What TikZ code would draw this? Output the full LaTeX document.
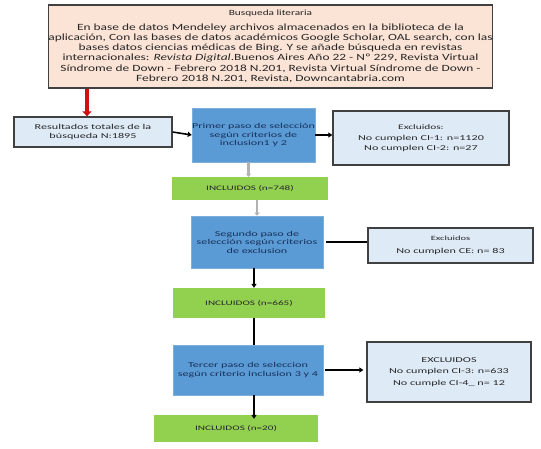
\documentclass[tikz,border=0pt]{standalone}
\usepackage{fontspec}
\setmainfont{Carlito}[FakeStretch=1.41]
\newfontfamily\boxfont{Carlito}[FakeStretch=1.62]
\usetikzlibrary{arrows.meta}
\definecolor{peach}{HTML}{FBE3D6}
\definecolor{bluebox}{HTML}{5B9BD5}
\definecolor{greenbox}{HTML}{92D050}
\definecolor{lightbox}{HTML}{DEEBF7}
\definecolor{darkline}{HTML}{404040}
\definecolor{txtgrey}{HTML}{262626}
\definecolor{navy}{HTML}{17305A}
\definecolor{redarr}{HTML}{D01010}
\tikzset{
  topbox/.style={draw=darkline, line width=1.6pt, fill=peach, inner sep=0pt, align=center, text=txtgrey, font=\fontsize{9.5}{10.3}\selectfont},
  stepbox/.style={fill=bluebox, draw=bluebox!80!white, line width=0.6pt, inner sep=0pt, align=center, text=navy, font=\boxfont\fontsize{7.5}{8.5}\selectfont},
  inclbox/.style={fill=greenbox, inner sep=0pt, align=center, text=txtgrey, font=\boxfont\fontsize{6.9}{8}\selectfont},
  exclbox/.style={fill=lightbox, draw=darkline, line width=1.3pt, inner sep=0pt, align=center, text=txtgrey, font=\boxfont\fontsize{7.5}{8.5}\selectfont},
  blackarr/.style={line width=1.6pt, black, -{Triangle[length=4pt,width=5pt]}},
  blackline/.style={line width=2.2pt, black},
  greyarr/.style={line width=2.4pt, gray!60, -{Triangle[length=3pt,width=5pt]}},
  redarrow/.style={line width=4pt, redarr, -{Triangle[length=5pt,width=9pt]}}
}
\begin{document}
\begin{tikzpicture}[x=1pt,y=-1pt]
\useasboundingbox (0,0) rectangle (541,448);
\node[topbox, minimum width=439pt, minimum height=83pt] (top) at (270.5,46.5)
 {\fontsize{8}{9}\selectfont Busqueda literaria\\[4pt]
  \fontsize{9.5}{10.3}\selectfont
  En base de datos Mendeley archivos almacenados en la biblioteca de la\\
  aplicación, Con las bases de datos académicos Google Scholar, OAL search, con las\\
  bases datos ciencias médicas de Bing. Y se añade búsqueda en revistas\\
  internacionales: \textit{Revista Digital}.Buenos Aires Año 22 - Nº 229, Revista Virtual\\
  Síndrome de Down - Febrero 2018 N.201, Revista Virtual Síndrome de Down -\\
  Febrero 2018 N.201, Revista, Downcantabria.com};
\node[exclbox, minimum width=158pt, minimum height=30pt] (res) at (93,132)
 {Resultados totales de la\\búsqueda N:1895};
\node[stepbox, minimum width=121pt, minimum height=54pt] (p1) at (253.5,135)
 {Primer paso de selección\\según criterios de\\inclusion1 y 2};
\node[exclbox, minimum width=176pt, minimum height=54pt] (e1) at (421,138)
 {\fontsize{7}{8}\selectfont Excluidos:\\[2pt]No cumplen CI-1: n=1120\\[1.5pt]No cumplen CI-2: n=27};
\node[inclbox, minimum width=156pt, minimum height=23pt] (i1) at (250,188.5)
 {INCLUIDOS (n=748)};
\node[stepbox, minimum width=132pt, minimum height=52pt] (p2) at (257,242)
 {Segundo paso de\\selección según criterios\\de exclusion};
\node[exclbox, minimum width=165pt, minimum height=35pt] (e2) at (450.5,245.5)
 {\fontsize{6.5}{7.5}\selectfont Excluidos\\[5pt]No cumplen CE: n= 83};
\node[inclbox, minimum width=152pt, minimum height=30pt] (i2) at (249,303)
 {INCLUIDOS (n=665)};
\node[stepbox, minimum width=150pt, minimum height=50pt] (p3) at (248,370)
 {Tercer paso de seleccion\\según criterio inclusion 3 y 4};
\node[exclbox, minimum width=164pt, minimum height=60pt] (e3) at (449,372)
 {EXCLUIDOS\\[3pt]No cumplen CI-3: n=633\\[3pt]No cumple CI-4\_ n= 12};
\node[inclbox, minimum width=164pt, minimum height=27pt] (i3) at (236,428.5)
 {INCLUIDOS (n=20)};
% connectors
\draw[redarrow] ([xshift=-6pt]res.north |- top.south) -- ([xshift=-6pt]res.north);
\draw[blackarr] (res.east) -- (p1.west);
\draw[blackarr] (p1.east) -- (e1.west |- p1.east);
\draw[greyarr] ([xshift=-5pt]p1.south) -- ([xshift=-5pt]p1.south |- i1.north);
\draw[greyarr] ([xshift=7pt]i1.south) -- ([xshift=7pt]i1.south |- p2.north);
\draw[blackline] ([xshift=3pt]p2.east) -- (e2.west |- p2.east);
\draw[blackarr] ([xshift=-3pt]p2.south) -- ([xshift=-3pt]p2.south |- i2.north);
\draw[blackline] ([xshift=5pt]i2.south) -- ([xshift=5pt]i2.south |- p3.north);
\draw[blackarr] ([xshift=2pt]p3.east) -- ([xshift=-3pt]e3.west |- p3.east);
\draw[blackarr] ([xshift=6pt]p3.south) -- ([xshift=6pt,yshift=-4pt]p3.south |- i3.north);
\end{tikzpicture}
\end{document}
